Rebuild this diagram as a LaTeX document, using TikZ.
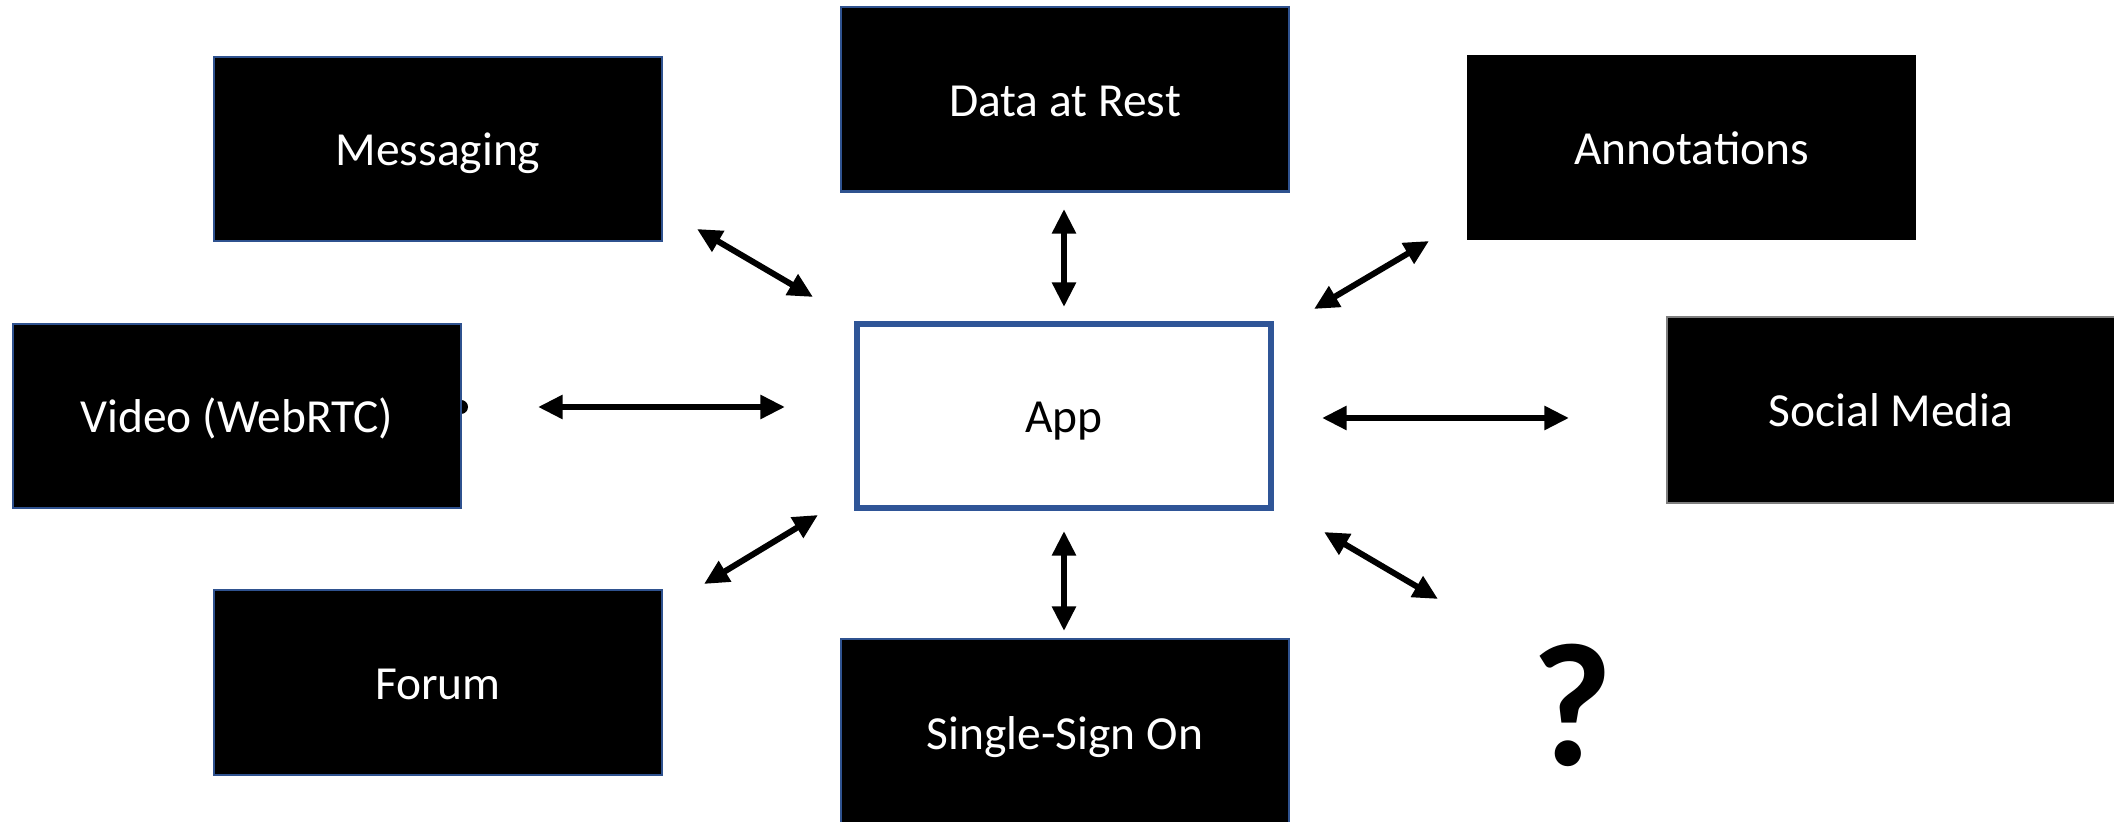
\documentclass[tikz,border=0pt]{standalone}
\usepackage{fontspec}
\setmainfont{Carlito}
\usetikzlibrary{arrows.meta}
\definecolor{pblue}{HTML}{2F528F}
\definecolor{appblue}{HTML}{2F5597}
\definecolor{sgray}{HTML}{7F7F7F}
\begin{document}
\begin{tikzpicture}[x=0.01cm,y=-0.01cm,
  txt/.style={font=\fontsize{13.5}{16}\selectfont, text height=10.8pt, text depth=1.35pt},
  blk/.style={txt, draw=pblue, line width=0.6pt, fill=black, text=white, inner sep=0pt, outer sep=0pt,
    minimum width=4.48cm, minimum height=1.84cm},
  appbox/.style={txt, draw=appblue, line width=1.6pt, fill=white, text=black, inner sep=0pt, outer sep=0pt,
    minimum width=4.14cm, minimum height=1.84cm},
  link/.style={line width=1.7pt, {Triangle[length=7pt,width=6.5pt]}-{Triangle[length=7pt,width=6.5pt]}}]
\useasboundingbox (0,0) rectangle (2114,822);
% boxes
\node[blk] (msg) at (438,149) {Messaging};
\node[blk] (data) at (1065,99.5) {Data at Rest};
\node[blk, draw=none] (ann) at (1691.5,147.5) {Annotations};
\fill (461,407) circle[radius=7];
\node[blk] (video) at (237,416) {Video (WebRTC)};
\node[appbox] (app) at (1064,416) {App};
\node[blk, draw=sgray, minimum height=1.86cm] (social) at (1891,410) {Social Media};
\node[blk, minimum height=1.85cm] (forum) at (438,682.5) {Forum};
\node[blk, minimum height=1.88cm] (sso) at (1065,733) {Single-Sign On};
\node[anchor=base, inner sep=0pt, font=\fontsize{50}{60}\selectfont\bfseries] (q) at (1572,766) {?};
% arrow end points
\coordinate (m1) at (697,229);  \coordinate (m2) at (813,297);
\coordinate (d1) at (1064,209); \coordinate (d2) at (1064,307);
\coordinate (a1) at (1429,241); \coordinate (a2) at (1314,309);
\coordinate (v1) at (538,407);  \coordinate (v2) at (785,407);
\coordinate (s1) at (1569,418); \coordinate (s2) at (1322,418);
\coordinate (f1) at (704,584);  \coordinate (f2) at (818,515);
\coordinate (o1) at (1064,631); \coordinate (o2) at (1064,531);
\coordinate (q1) at (1438,599); \coordinate (q2) at (1324,532);
% connectors
\draw[link] (m1) -- (m2);
\draw[link] (d1) -- (d2);
\draw[link] (a1) -- (a2);
\draw[link] (v1) -- (v2);
\draw[link] (s1) -- (s2);
\draw[link] (f1) -- (f2);
\draw[link] (o1) -- (o2);
\draw[link] (q1) -- (q2);
\end{tikzpicture}
\end{document}
